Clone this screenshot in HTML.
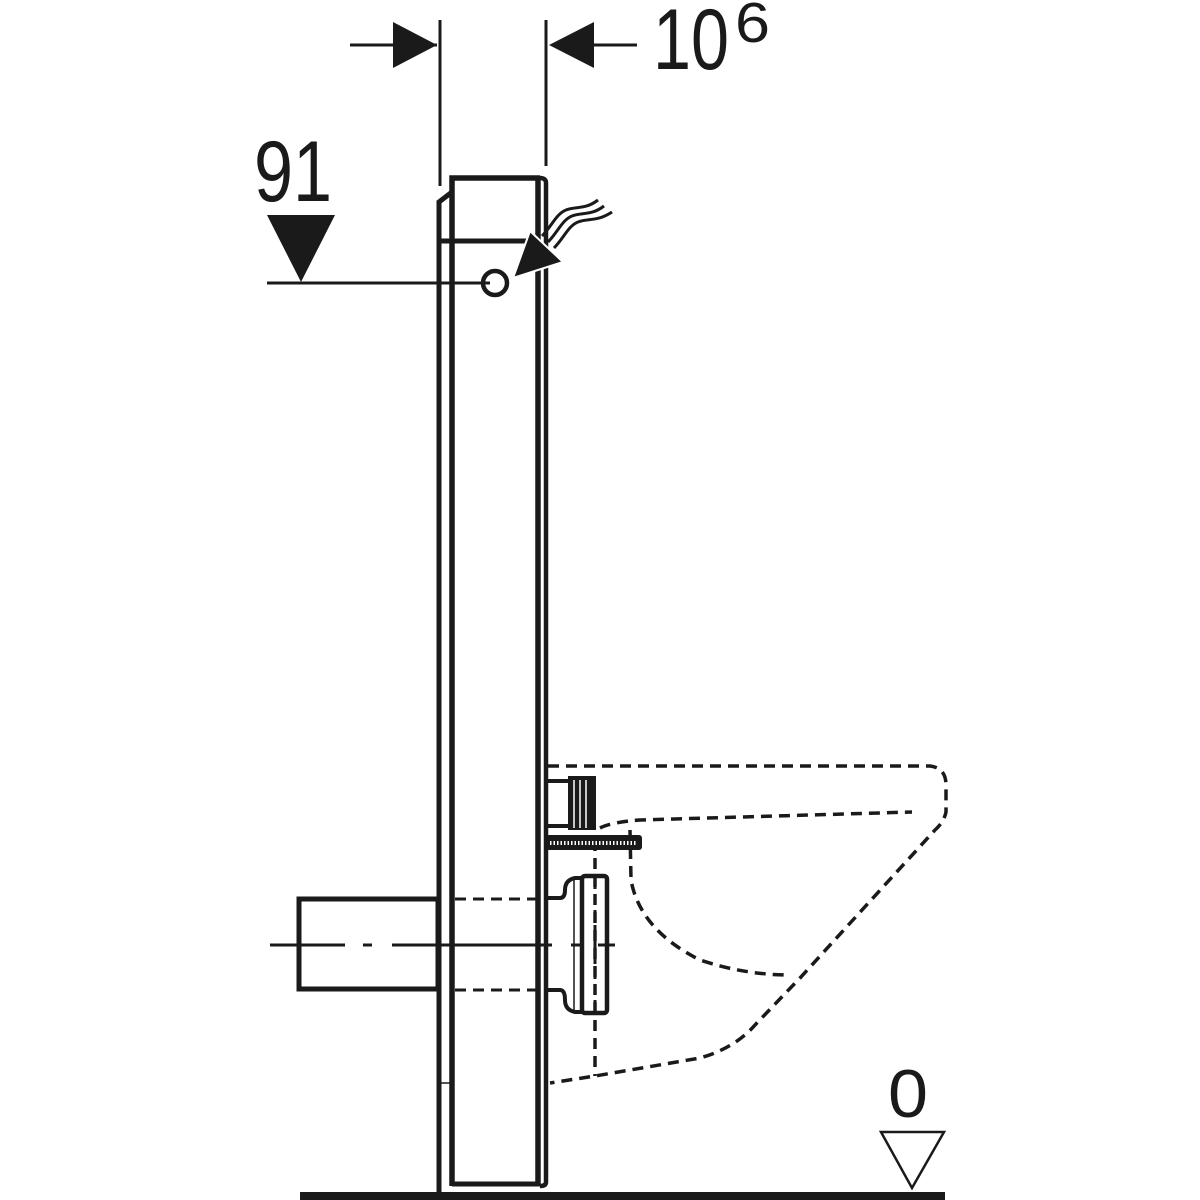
<!DOCTYPE html>
<html><head><style>html,body{margin:0;padding:0;background:#fff;}svg{display:block}</style></head>
<body>
<svg width="1200" height="1200" viewBox="0 0 1200 1200" xmlns="http://www.w3.org/2000/svg">
<rect width="1200" height="1200" fill="#fff"/>
<g stroke="#1a1a1a" fill="none" stroke-linecap="butt">
<line x1="350" y1="45" x2="437" y2="45" stroke-width="3"/>
<polygon points="393,22 393,68 437,45" fill="#1a1a1a" stroke="none"/>
<line x1="440" y1="20" x2="440" y2="186" stroke-width="3"/>
<line x1="546" y1="20" x2="546" y2="166" stroke-width="3"/>
<polygon points="594,22 594,68 549,45" fill="#1a1a1a" stroke="none"/>
<line x1="594" y1="45" x2="637" y2="45" stroke-width="3"/>
<polygon points="267,215 335,215 301,282" fill="#1a1a1a" stroke="none"/>
<line x1="267" y1="283" x2="490" y2="283" stroke-width="3"/>
<circle cx="495" cy="283" r="12" stroke-width="4.5"/>
<path d="M439,1193 L439,202 L452,192" stroke-width="5"/>
<path d="M452,1186 L452,178 L540,178" stroke-width="5.5"/>
<line x1="440" y1="241" x2="528" y2="241" stroke-width="5"/>
<line x1="538" y1="178" x2="538" y2="1186" stroke-width="5.5"/>
<path d="M540,178 Q546,178 546,183 L546,1182 Q546,1186 540,1186" stroke-width="4.5"/>
<line x1="452" y1="1184" x2="540" y2="1184" stroke-width="5"/>
<line x1="441" y1="1083" x2="451" y2="1083" stroke-width="1.5"/>
<rect x="300" y="1192" width="645" height="8" fill="#1a1a1a" stroke="none"/>
<g stroke-width="3">
<path d="M542,236 C552,226 556,214 566,210 C576,206 585,210 598,200"/>
<path d="M548,242 C558,232 562,220 572,216 C582,212 591,216 604,206"/>
<path d="M554,248 C564,238 568,226 578,222 C588,218 597,222 612,212"/>
</g>
<polygon points="513,278 530,231 563,262" fill="#1a1a1a" stroke="#fff" stroke-width="2"/>
<rect x="299" y="899" width="139" height="90" stroke-width="5"/>
<line x1="270" y1="945" x2="345" y2="945" stroke-width="3"/>
<line x1="363" y1="945" x2="372" y2="945" stroke-width="3"/>
<line x1="392" y1="945" x2="552" y2="945" stroke-width="3"/>
<line x1="571" y1="945" x2="580" y2="945" stroke-width="3"/>
<line x1="598" y1="945" x2="615" y2="945" stroke-width="3"/>
<g stroke-dasharray="11,7" stroke-width="3">
<line x1="455" y1="899" x2="548" y2="899"/>
<line x1="455" y1="990" x2="548" y2="990"/>
<path d="M548,766 L930,766 Q946,768 946,785 L946,812 Q944,822 935,830 L800,978 L755,1025 Q735,1048 700,1058 L595,1076 L550,1083" stroke-width="3.5"/>
<path d="M600,828 Q612,822 640,820 L912,812" stroke-width="3.5"/>
<path d="M630,830 L631,880 Q640,930 700,960 Q745,975 790,975" stroke-width="3.5"/>
<line x1="595" y1="840" x2="595" y2="1076" stroke-width="3.5"/>
</g>
<line x1="547" y1="781" x2="570" y2="781" stroke-width="4"/>
<line x1="547" y1="826" x2="570" y2="826" stroke-width="4"/>
<rect x="568" y="776" width="28" height="54" fill="#1a1a1a" stroke="none"/>
<g stroke="#fff" stroke-width="1.5"><line x1="574" y1="780" x2="574" y2="828"/><line x1="580" y1="780" x2="580" y2="828"/><line x1="586" y1="780" x2="586" y2="828"/></g>
<rect x="546" y="835" width="96" height="15" rx="3" fill="#1a1a1a" stroke="none"/>
<line x1="550" y1="843" x2="636" y2="843" stroke="#fff" stroke-width="4" stroke-dasharray="1.5,2"/>
<path d="M548,898 L560,898 Q565,898 565,890 Q565,880 575,878 L582,878 M582,1012 L575,1012 Q565,1010 565,1000 Q565,990 560,990 L548,990" stroke-width="4"/>
<rect x="582" y="876" width="25" height="137" rx="3" stroke-width="4.5"/>
<line x1="574" y1="880" x2="574" y2="1010" stroke-width="1.5"/>
<line x1="595" y1="880" x2="595" y2="1010" stroke-width="3" stroke-dasharray="9,6"/>
<polygon points="881,1132 944,1132 912,1188" stroke-width="2.5"/>
</g>
<g font-family="'Liberation Sans', sans-serif" fill="#1a1a1a">
<text x="653" y="69" font-size="86" textLength="76" lengthAdjust="spacingAndGlyphs">10</text>
<text x="735" y="42" font-size="57" textLength="35" lengthAdjust="spacingAndGlyphs">6</text>
<text x="254" y="201" font-size="86" textLength="78" lengthAdjust="spacingAndGlyphs">91</text>
<text x="888" y="1117" font-size="68" textLength="40" lengthAdjust="spacingAndGlyphs">0</text>
</g>
</svg>
</body></html>
